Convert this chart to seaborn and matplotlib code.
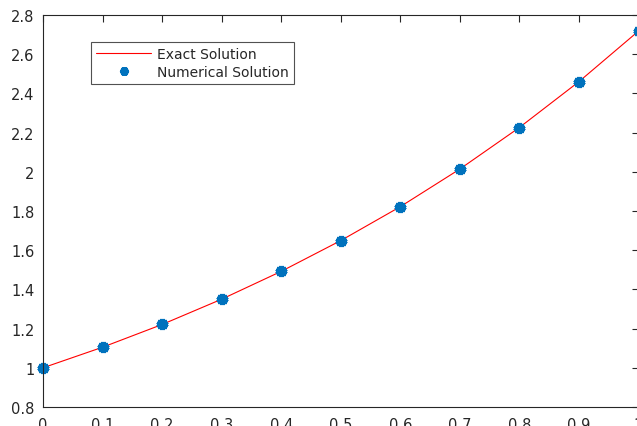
import matplotlib
matplotlib.use("Agg")
import matplotlib.pyplot as plt
import seaborn as sns
import pandas as pd
from matplotlib.lines import Line2D

x_vals = [0.0, 0.1, 0.2, 0.3, 0.4, 0.5, 0.6, 0.7, 0.8, 0.9, 1.0]
exact_vals = [1.000, 1.105, 1.221, 1.350, 1.492, 1.649, 1.822, 2.014, 2.226, 2.460, 2.718]
numerical_vals = [1.000, 1.105, 1.221, 1.350, 1.492, 1.649, 1.822, 2.014, 2.226, 2.460, 2.718]
x_ticks = [0, 0.1, 0.2, 0.3, 0.4, 0.5, 0.6, 0.7, 0.8, 0.9, 1]
y_ticks = [0.8, 1.0, 1.2, 1.4, 1.6, 1.8, 2.0, 2.2, 2.4, 2.6, 2.8]

df = pd.DataFrame({"x": x_vals, "exact": exact_vals, "num": numerical_vals})

sns.set_style("white")
plt.rcParams['font.family'] = ['DejaVu Sans']

fig = plt.figure(figsize=(6.37, 4.27), dpi=100)
ax = fig.add_axes([43/637, 19/427, 595.5/637, 392/427])

sns.lineplot(data=df, x="x", y="exact", ax=ax, color=(1, 0, 0), linewidth=0.8)
ax.plot(df["x"], df["num"], linestyle="none", marker=(6, 2, 0), markersize=8,
        markeredgewidth=3.5, color="#0072BD", clip_on=False)

ax.set_xlim(0, 1)
ax.set_ylim(0.8, 2.8)
ax.set_xticks(x_ticks)
ax.set_xticklabels(["0", "0.1", "0.2", "0.3", "0.4", "0.5", "0.6", "0.7", "0.8", "0.9", "1"])
ax.set_yticks(y_ticks)
ax.set_yticklabels(["0.8", "1", "1.2", "1.4", "1.6", "1.8", "2", "2.2", "2.4", "2.6", "2.8"])
ax.set_xlabel("")
ax.set_ylabel("")
ax.tick_params(direction="in", length=5, width=0.8, colors="#262626", labelsize=10.5,
               top=True, right=True)
ax.tick_params(axis="x", pad=7)
ax.tick_params(axis="y", pad=6)
for s in ax.spines.values():
    s.set_color("#262626")
    s.set_linewidth(0.8)

handles = [Line2D([0], [0], color=(1, 0, 0), linewidth=0.8),
           Line2D([0], [0], linestyle="none", marker=(6, 2, 0), markersize=6,
                  markeredgewidth=3, color="#0072BD")]
leg = ax.legend(handles, ["Exact Solution", "Numerical Solution"],
                loc="upper left", bbox_to_anchor=(48/595.5, 1 - 27/392),
                fontsize=10, frameon=True, fancybox=False, borderpad=0.35,
                handlelength=4.0, handletextpad=0.4, labelspacing=0.3,
                borderaxespad=0)
leg.get_frame().set_edgecolor("#262626")
leg.get_frame().set_linewidth(0.8)

fig.savefig("out.png", dpi=100)
